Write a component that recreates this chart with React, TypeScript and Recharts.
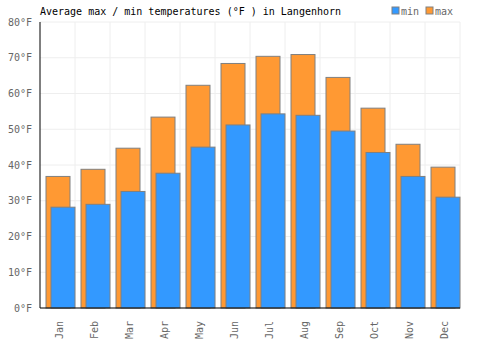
import React from 'react';
import { BarChart, Bar, XAxis, YAxis, CartesianGrid } from 'recharts';

const months = ['Jan', 'Feb', 'Mar', 'Apr', 'May', 'Jun', 'Jul', 'Aug', 'Sep', 'Oct', 'Nov', 'Dec'];
const maxTemps = [36.8, 38.8, 44.7, 53.4, 62.3, 68.4, 70.4, 70.9, 64.5, 55.9, 45.8, 39.4];
const minTemps = [28.2, 29.0, 32.6, 37.7, 45.0, 51.2, 54.3, 53.9, 49.5, 43.5, 36.8, 31.0];
const yTicks = [0, 10, 20, 30, 40, 50, 60, 70, 80];

const data = months.map((m, i) => ({ month: m, max: maxTemps[i], min: minTemps[i] }));

const FONT = '"DejaVu Sans Mono", monospace';
const COLORS = { min: '#3399FF', max: '#FF9933', stroke: '#808080', grid: '#eeeeee', text: '#666666' };

// shift bar groups a little to the right, like the original
const ShiftedBar = (props: any) => {
  const { x, y, width, height, fill } = props;
  if (!height || height <= 0) return null;
  return (
    <rect x={x + 3} y={y} width={width} height={height} fill={fill} stroke={COLORS.stroke} strokeWidth={1} />
  );
};

const MonthTick = (props: any) => {
  const { x, y, payload } = props;
  return (
    <text
      x={0}
      y={0}
      transform={`translate(${x + 5},${y + 5}) rotate(-90)`}
      textAnchor="end"
      fill={COLORS.text}
      fontSize={10}
      fontFamily={FONT}
    >
      {payload.value}
    </text>
  );
};

export default function App() {
  return (
    <div style={{ position: 'absolute', left: 0, top: 0, width: 500, height: 350, background: '#fff' }}>
      <BarChart
        width={500}
        height={350}
        data={data}
        margin={{ top: 22, right: 40, left: 0, bottom: 0 }}
        barGap={-19}
        barCategoryGap={6}
      >
        <text x={40} y={15} fontSize={10} fontFamily={FONT} fill="#000">
          Average max / min temperatures (°F ) in Langenhorn
        </text>
        <rect x={392} y={7} width={7} height={7} fill={COLORS.min} stroke={COLORS.stroke} />
        <text x={401} y={15} fontSize={10} fontFamily={FONT} fill={COLORS.text}>min</text>
        <rect x={426} y={7} width={7} height={7} fill={COLORS.max} stroke={COLORS.stroke} />
        <text x={435} y={15} fontSize={10} fontFamily={FONT} fill={COLORS.text}>max</text>
        <CartesianGrid
          stroke={COLORS.grid}
          verticalCoordinatesGenerator={({ offset }: any) =>
            months.map((_, i) => offset.left + ((i + 1) * offset.width) / months.length)
          }
        />
        <XAxis
          dataKey="month"
          height={42}
          axisLine={{ stroke: '#000' }}
          tickLine={false}
          tick={<MonthTick />}
          interval={0}
        />
        <YAxis
          width={40}
          domain={[0, 80]}
          ticks={yTicks}
          axisLine={{ stroke: '#000' }}
          tickLine={false}
          tickFormatter={(v) => `${v}°F`}
          tick={{ fill: COLORS.text, fontSize: 10, fontFamily: FONT }}
        />
        <Bar dataKey="max" fill={COLORS.max} barSize={24} shape={<ShiftedBar />} isAnimationActive={false} />
        <Bar dataKey="min" fill={COLORS.min} barSize={24} shape={<ShiftedBar />} isAnimationActive={false} />
      </BarChart>
    </div>
  );
}
